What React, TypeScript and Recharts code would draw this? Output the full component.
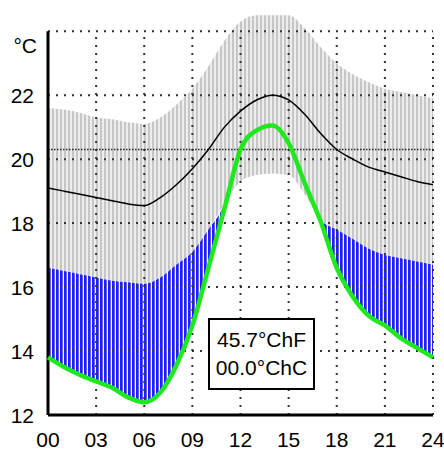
import { ComposedChart, Area, Line, XAxis, YAxis, ReferenceLine } from "recharts";

// hourly readings, 00..24
const HOURS = [0, 1, 2, 3, 4, 5, 6, 7, 8, 9, 10, 11, 12, 13, 14, 15, 16, 17, 18, 19, 20, 21, 22, 23, 24];
const BAND_UPPER = [21.6, 21.55, 21.45, 21.3, 21.25, 21.15, 21.1, 21.3, 21.7, 22.2, 22.9, 23.7, 24.3, 24.5, 24.5, 24.5, 24.1, 23.5, 23.0, 22.65, 22.4, 22.2, 22.1, 22.0, 21.9];
const BAND_LOWER = [16.6, 16.5, 16.4, 16.3, 16.2, 16.15, 16.1, 16.3, 16.7, 17.1, 17.8, 18.6, 19.3, 19.5, 19.55, 19.5, 18.9, 18.1, 17.8, 17.5, 17.2, 17.0, 16.9, 16.8, 16.7];
const MEAN_TEMP = [19.1, 19.0, 18.9, 18.8, 18.7, 18.6, 18.55, 18.8, 19.2, 19.7, 20.3, 21.0, 21.5, 21.85, 22.0, 21.85, 21.4, 20.8, 20.3, 20.0, 19.75, 19.6, 19.45, 19.3, 19.2];
const MEASURED = [13.8, 13.5, 13.25, 13.05, 12.85, 12.55, 12.4, 12.7, 13.55, 14.8, 16.6, 18.45, 20.3, 20.9, 21.05, 20.5, 19.25, 18.05, 16.6, 15.7, 15.1, 14.8, 14.4, 14.1, 13.8];

const X_TICKS = [0, 3, 6, 9, 12, 15, 18, 21, 24];
const Y_TICKS = [12, 14, 16, 18, 20, 22, 24];
const GRID_Y = [14, 16, 18, 20, 22, 24];
const GRID_X = [3, 6, 9, 12, 15, 18, 21, 24];
const SETPOINT = 20.3;
const BOX_LINES = ["45.7°ChF", "00.0°ChC"];

const data = HOURS.map((h, i) => ({
  h,
  band: [BAND_LOWER[i], BAND_UPPER[i]],
  below: [MEASURED[i], Math.max(MEASURED[i], BAND_LOWER[i])],
  mean: MEAN_TEMP[i],
  measured: MEASURED[i],
}));

const FONT = "'Liberation Sans', Arial, sans-serif";

const XTick = ({ x, y, payload }: any) => (
  <text x={x} y={y} dy={31.5} textAnchor="middle" fontFamily={FONT} fontSize={21} fill="#000">
    {String(payload.value).padStart(2, "0")}
  </text>
);

const YTick = ({ x, y, payload }: any) => {
  const top = payload.value === 24;
  return (
    <text x={x} y={y} dx={top ? -11 : -14} dy={top ? 21.5 : 7.5} textAnchor="end" fontFamily={FONT} fontSize={21} fill="#000">
      {top ? "°C" : payload.value}
    </text>
  );
};

export default function App() {
  return (
    <div style={{ position: "absolute", left: 0, top: 0, width: 444, height: 450, background: "#fff" }}>
      <ComposedChart width={444} height={450} data={data} margin={{ top: 12, right: 11, left: 0, bottom: 0 }}>
        <defs>
          <pattern id="grayStripes" patternUnits="userSpaceOnUse" width={4} height={8}>
            <rect width={4} height={8} fill="#ededed" />
            <rect width={2} height={8} fill="#c6c6c6" />
          </pattern>
          <pattern id="blueStripes" patternUnits="userSpaceOnUse" width={4} height={8}>
            <rect width={4} height={8} fill="#ffffff" />
            <rect width={2.7} height={8} fill="#1f1ff8" />
          </pattern>
        </defs>
        <XAxis
          dataKey="h"
          type="number"
          domain={[0, 24]}
          ticks={X_TICKS}
          tick={<XTick />}
          tickSize={0}
          tickMargin={0}
          height={35}
          axisLine={{ stroke: "#000", strokeWidth: 3 }}
          tickLine={false}
        />
        <YAxis
          type="number"
          domain={[12, 24.6]}
          ticks={Y_TICKS}
          tick={<YTick />}
          tickSize={0}
          tickMargin={0}
          width={48}
          axisLine={false}
          tickLine={false}
          interval={0}
        />
        <Area dataKey="band" type="monotone" stroke="none" fill="url(#grayStripes)" fillOpacity={1} isAnimationActive={false} activeDot={false} />
        <Area dataKey="below" type="monotone" stroke="none" fill="url(#blueStripes)" fillOpacity={1} isAnimationActive={false} activeDot={false} />
        {GRID_Y.map((v) => (
          <ReferenceLine key={`gy${v}`} y={v} stroke="#333" strokeWidth={2} strokeDasharray="2 6" />
        ))}
        {GRID_X.map((v) => (
          <ReferenceLine key={`gx${v}`} segment={[{ x: v, y: 12 }, { x: v, y: 24 }]} stroke="#333" strokeWidth={2} strokeDasharray="2 6" />
        ))}
        <ReferenceLine y={SETPOINT} stroke="#222" strokeWidth={1.5} strokeDasharray="1.5 1.5" />
        <ReferenceLine segment={[{ x: 0, y: 12 }, { x: 0, y: 24 }]} stroke="#000" strokeWidth={3} />
        <Line dataKey="mean" type="monotone" stroke="#000" strokeWidth={1.5} dot={false} activeDot={false} isAnimationActive={false} />
        <Line dataKey="measured" type="monotone" stroke="#1ee81e" strokeWidth={4.5} dot={false} activeDot={false} isAnimationActive={false} />
      </ComposedChart>
      <div
        style={{
          position: "absolute",
          left: 208,
          top: 318,
          width: 107,
          height: 72,
          boxSizing: "border-box",
          border: "2px solid #000",
          background: "#fff",
          fontFamily: FONT,
          fontSize: 21,
          lineHeight: "28px",
          paddingTop: 6,
          textAlign: "center",
          color: "#000",
        }}
      >
        {BOX_LINES.map((t) => (
          <div key={t}>{t}</div>
        ))}
      </div>
    </div>
  );
}
